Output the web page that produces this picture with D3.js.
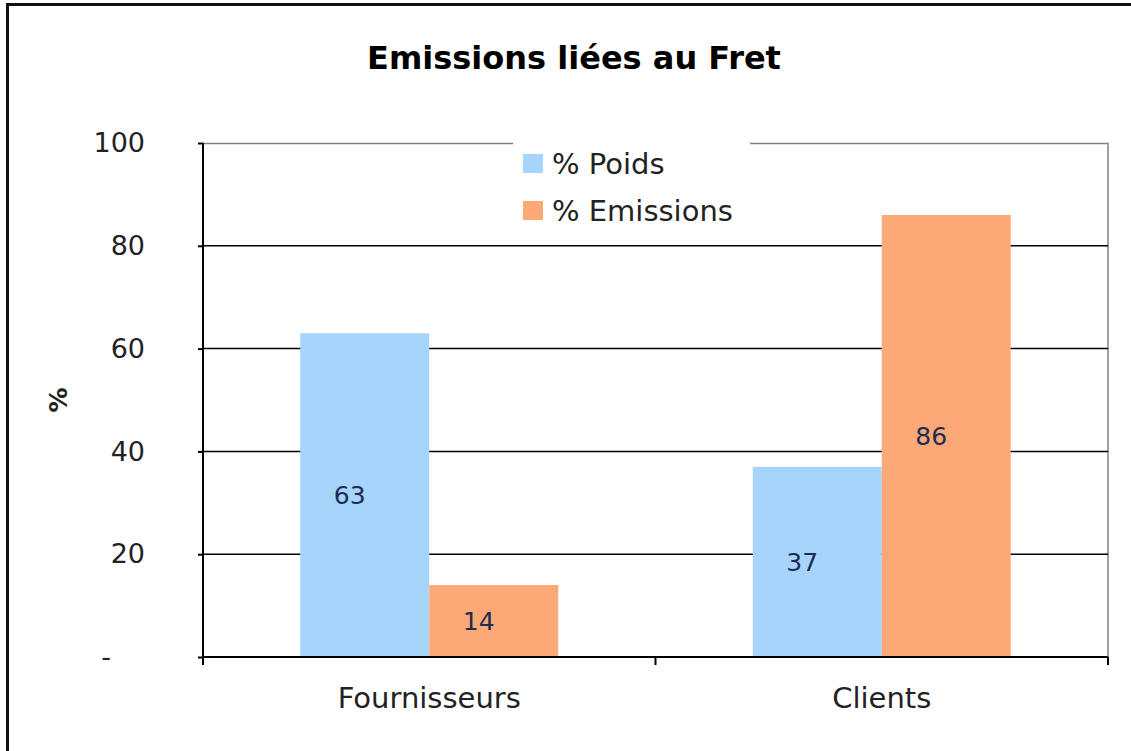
<!DOCTYPE html>
<html>
<head>
<meta charset="utf-8">
<script src="https://cdn.jsdelivr.net/npm/d3@7"></script>
<style>
  body { margin: 0; background: #fff; }
  text { font-family: "DejaVu Sans", Verdana, sans-serif; }
</style>
</head>
<body>
<div id="chart"></div>
<script>
// data
var categories = ["Fournisseurs", "Clients"];
var seriesNames = ["% Poids", "% Emissions"];
var poids = [63, 37];
var emissions = [14, 86];
var yTicks = [0, 20, 40, 60, 80, 100];

var svgWidth = 1131;
var svgHeight = 751;

var margin = { top: 143, right: 23, bottom: 94, left: 203 };
var width = svgWidth - margin.left - margin.right;
var height = svgHeight - margin.top - margin.bottom;

var colors = ["#a6d4fb", "#fca877"];

var svg = d3.select("#chart")
  .append("svg")
  .attr("width", svgWidth)
  .attr("height", svgHeight);

// outer frame (runs off the picture on right and bottom)
svg.append("rect")
  .attr("x", 7.5)
  .attr("y", 4.5)
  .attr("width", svgWidth + 20)
  .attr("height", svgHeight + 20)
  .attr("fill", "none")
  .attr("stroke", "#111")
  .attr("stroke-width", 3);

svg.append("text")
  .attr("x", 574)
  .attr("y", 69)
  .attr("text-anchor", "middle")
  .attr("font-size", "32px")
  .attr("font-weight", "bold")
  .attr("fill", "#000")
  .text("Emissions liées au Fret");

var chartGroup = svg.append("g")
  .attr("transform", `translate(${margin.left}, ${margin.top})`);

var xScale = d3.scaleBand()
  .domain(categories)
  .range([0, width]);

var xInner = d3.scaleBand()
  .domain(seriesNames)
  .range([0, xScale.bandwidth()])
  .paddingInner(0)
  .paddingOuter(0.754);

var yScale = d3.scaleLinear()
  .domain([0, 100])
  .range([height, 0]);

// plot frame: top and right grey
chartGroup.append("path")
  .attr("d", `M0,0.5H${width}V${height}`)
  .attr("fill", "none")
  .attr("stroke", "#808080")
  .attr("stroke-width", 1.5);

// gridlines
chartGroup.append("g")
  .selectAll("line")
  .data(yTicks.filter(d => d > 0 && d < 100))
  .enter()
  .append("line")
  .attr("x1", 0)
  .attr("x2", width)
  .attr("y1", d => yScale(d))
  .attr("y2", d => yScale(d))
  .attr("stroke", "#000")
  .attr("stroke-width", 1.5);

var rows = categories.map((c, i) => ({ cat: c, values: [poids[i], emissions[i]] }));

var groups = chartGroup.selectAll(".grp")
  .data(rows)
  .enter()
  .append("g")
  .attr("class", "grp")
  .attr("transform", d => `translate(${xScale(d.cat)},0)`);

groups.selectAll("rect")
  .data(d => d.values.map((v, j) => ({ name: seriesNames[j], value: v, j: j })))
  .enter()
  .append("rect")
  .attr("x", d => xInner(d.name))
  .attr("y", d => yScale(d.value))
  .attr("width", xInner.bandwidth())
  .attr("height", d => height - yScale(d.value))
  .attr("fill", d => colors[d.j]);

groups.selectAll(".val")
  .data(d => d.values.map((v, j) => ({ name: seriesNames[j], value: v })))
  .enter()
  .append("text")
  .attr("class", "val")
  .attr("x", d => xInner(d.name) + xInner.bandwidth() / 2 - 15)
  .attr("y", d => (yScale(d.value) + height) / 2)
  .attr("dy", "0.35em")
  .attr("text-anchor", "middle")
  .attr("font-size", "25px")
  .attr("fill", "#1c2c50")
  .text(d => d.value);

// axes
var leftAxis = d3.axisLeft(yScale)
  .tickValues(yTicks)
  .tickSize(5)
  .tickPadding(53)
  .tickFormat(d => d === 0 ? "-" : d);

var yAxis = chartGroup.append("g")
  .call(leftAxis);
yAxis.select(".domain").attr("stroke", "#000").attr("stroke-width", 2).attr("d", `M0,0V${height}`);
yAxis.selectAll(".tick line").attr("stroke", "#000").attr("stroke-width", 2);
yAxis.selectAll(".tick text")
  .attr("font-size", "27px")
  .attr("fill", "#222")
  .attr("font-family", "DejaVu Sans, sans-serif");
yAxis.selectAll(".tick text").attr("dx", d => d === 0 ? "-34px" : 0);

var xAxis = chartGroup.append("g")
  .attr("transform", `translate(0, ${height})`)
  .call(d3.axisBottom(xScale).tickSize(0).tickPadding(30));
xAxis.select(".domain").remove();
xAxis.selectAll(".tick text")
  .attr("font-size", "29px")
  .attr("fill", "#222")
  .attr("font-family", "DejaVu Sans, sans-serif");

chartGroup.append("line")
  .attr("x1", 0).attr("x2", width)
  .attr("y1", height).attr("y2", height)
  .attr("stroke", "#000").attr("stroke-width", 2);

// category separators ticks
chartGroup.selectAll(".sep")
  .data([0, 1, 2])
  .enter()
  .append("line")
  .attr("class", "sep")
  .attr("x1", d => d * xScale.step())
  .attr("x2", d => d * xScale.step())
  .attr("y1", height)
  .attr("y2", height + 8)
  .attr("stroke", "#000")
  .attr("stroke-width", 2);

// y label
svg.append("text")
  .attr("transform", "translate(58, 400) rotate(-90)")
  .attr("text-anchor", "middle")
  .attr("dy", "0.35em")
  .attr("font-size", "25px")
  .attr("font-weight", "bold")
  .attr("fill", "#222")
  .text("%");

// legend
var legend = svg.append("g")
  .attr("transform", "translate(513, 135)");

legend.append("rect")
  .attr("width", 237)
  .attr("height", 96)
  .attr("fill", "#fff");

var legendItems = legend.selectAll(".item")
  .data(seriesNames)
  .enter()
  .append("g")
  .attr("class", "item")
  .attr("transform", (d, i) => `translate(10, ${19 + i * 47})`);

legendItems.append("rect")
  .attr("width", 20)
  .attr("height", 19)
  .attr("fill", (d, i) => colors[i]);

legendItems.append("text")
  .attr("x", 29)
  .attr("y", 10)
  .attr("dy", "0.35em")
  .attr("font-size", "29px")
  .attr("fill", "#222")
  .text(d => d);
</script>
</body>
</html>
